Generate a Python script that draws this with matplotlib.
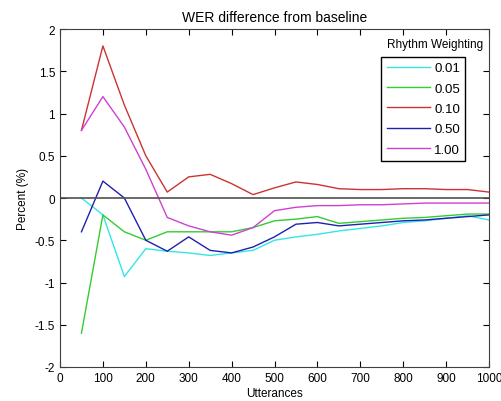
import numpy as np
import matplotlib
matplotlib.use('Agg')
import matplotlib.pyplot as plt

plt.rcParams['font.family'] = ['Liberation Sans', 'DejaVu Sans']

# utterance counts and WER differences (%)
utterances = [50, 100, 150, 200, 250, 300, 350, 400, 450, 500,
              550, 600, 650, 700, 750, 800, 850, 900, 950, 1000]
w001 = [0.0, -0.2, -0.93, -0.6, -0.63, -0.65, -0.68, -0.65, -0.62, -0.5,
        -0.46, -0.43, -0.39, -0.36, -0.33, -0.29, -0.27, -0.24, -0.21, -0.26]
w005 = [-1.6, -0.2, -0.4, -0.5, -0.4, -0.4, -0.4, -0.4, -0.35, -0.27,
        -0.25, -0.22, -0.3, -0.28, -0.26, -0.24, -0.23, -0.21, -0.19, -0.19]
w010 = [0.8, 1.8, 1.1, 0.5, 0.07, 0.25, 0.28, 0.17, 0.04, 0.12,
        0.19, 0.16, 0.11, 0.1, 0.1, 0.11, 0.11, 0.1, 0.1, 0.07]
w050 = [-0.4, 0.2, 0.0, -0.5, -0.63, -0.46, -0.62, -0.65, -0.58, -0.46,
        -0.31, -0.29, -0.33, -0.31, -0.29, -0.27, -0.26, -0.24, -0.22, -0.2]
w100 = [0.8, 1.2, 0.84, 0.34, -0.23, -0.33, -0.4, -0.44, -0.35, -0.15,
        -0.11, -0.09, -0.09, -0.08, -0.08, -0.07, -0.06, -0.06, -0.06, -0.06]
labels = ['0.01', '0.05', '0.10', '0.50', '1.00']
colors = ['#33e6e6', '#33cc33', '#cc3333', '#2020b0', '#d040d0']

fig = plt.figure(figsize=(5.01, 4.02), dpi=100)
ax = fig.add_axes([60/501, 1 - 368/402, 429/501, 338/402])

for ys, lab, c in zip([w001, w005, w010, w050, w100], labels, colors):
    ax.plot(utterances, ys, color=c, lw=1, label=lab)
ax.axhline(0, color='#505050', lw=1.2)

ax.set_xlim(0, 1000)
ax.set_ylim(-2, 2)
ax.set_xticks(np.arange(0, 1001, 100))
ax.set_yticks(np.arange(-2, 2.01, 0.5))
ax.set_yticklabels(['-2', '-1.5', '-1', '-0.5', '0', '0.5', '1', '1.5', '2'])
ax.tick_params(direction='in', top=True, right=True, labelsize=8.5, length=4)
for s in ax.spines.values():
    s.set_color('#404040')

ax.set_xlabel('Utterances', fontsize=8.5, labelpad=2)
ax.set_ylabel('Percent (%)', fontsize=8.5, labelpad=4)
ax.set_title('WER difference from baseline', fontsize=10, pad=6)

leg = ax.legend(loc='upper right', bbox_to_anchor=(0.945, 0.918), fancybox=False,
                framealpha=1, edgecolor='black', fontsize=9.5, handlelength=3.3,
                borderpad=0.4, labelspacing=0.62, handletextpad=0.3,
                borderaxespad=0)
ax.text(0.986, 0.956, 'Rhythm Weighting', transform=ax.transAxes,
        ha='right', va='center', fontsize=8.5)

fig.savefig('out.png', dpi=100)
